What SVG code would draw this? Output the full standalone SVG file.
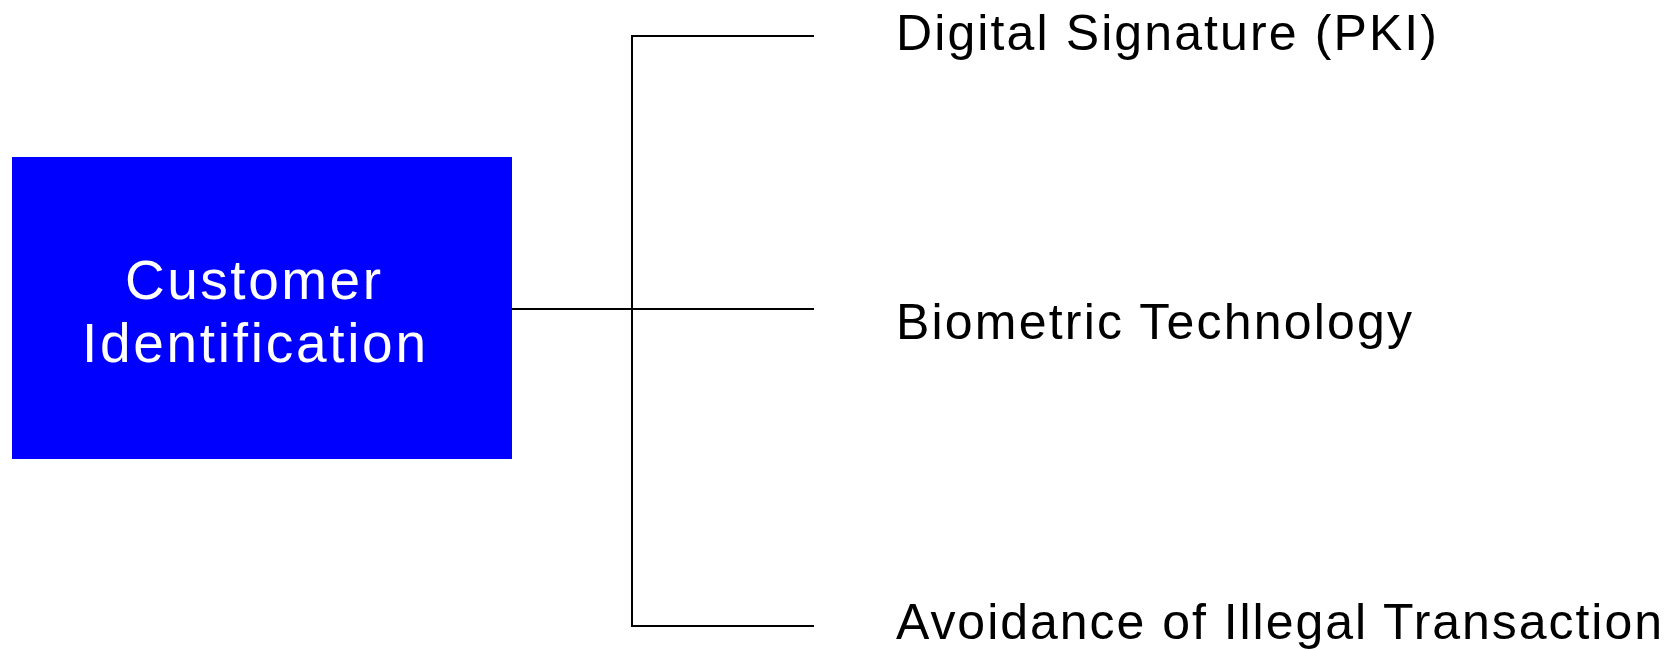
<svg xmlns="http://www.w3.org/2000/svg" width="1671" height="649" viewBox="0 0 1671 649">
<style>
.box{fill:#0000ff;stroke:none}
.lbl{font-family:"Liberation Sans",Arial,sans-serif;fill:#000;font-size:50px}
.inner{font-family:"Liberation Sans",Arial,sans-serif;fill:#fff;font-size:55px;text-anchor:middle}
.conn{stroke:#000;stroke-width:2;fill:none}
</style>
<rect x="0" y="0" width="1671" height="649" fill="#fff"/>
<g id="connectors">
<line class="conn" x1="512" y1="309" x2="814" y2="309"/>
<polyline class="conn" points="814,36 632,36 632,626 814,626"/>
</g>
<g id="customer-identification">
<rect class="box" x="12" y="157" width="500" height="302"/>
<text class="inner" x="253" y="299" textLength="256" lengthAdjust="spacing">Customer</text>
<text class="inner" x="254" y="362" textLength="344" lengthAdjust="spacing">Identification</text>
</g>
<g id="digital-signature">
<text class="lbl" x="896" y="50" textLength="541" lengthAdjust="spacing">Digital Signature (PKI)</text>
</g>
<g id="biometric-technology">
<text class="lbl" x="896" y="339" textLength="516" lengthAdjust="spacing">Biometric Technology</text>
</g>
<g id="avoidance">
<text class="lbl" x="896" y="639" textLength="766" lengthAdjust="spacing">Avoidance of Illegal Transaction</text>
</g>
</svg>
